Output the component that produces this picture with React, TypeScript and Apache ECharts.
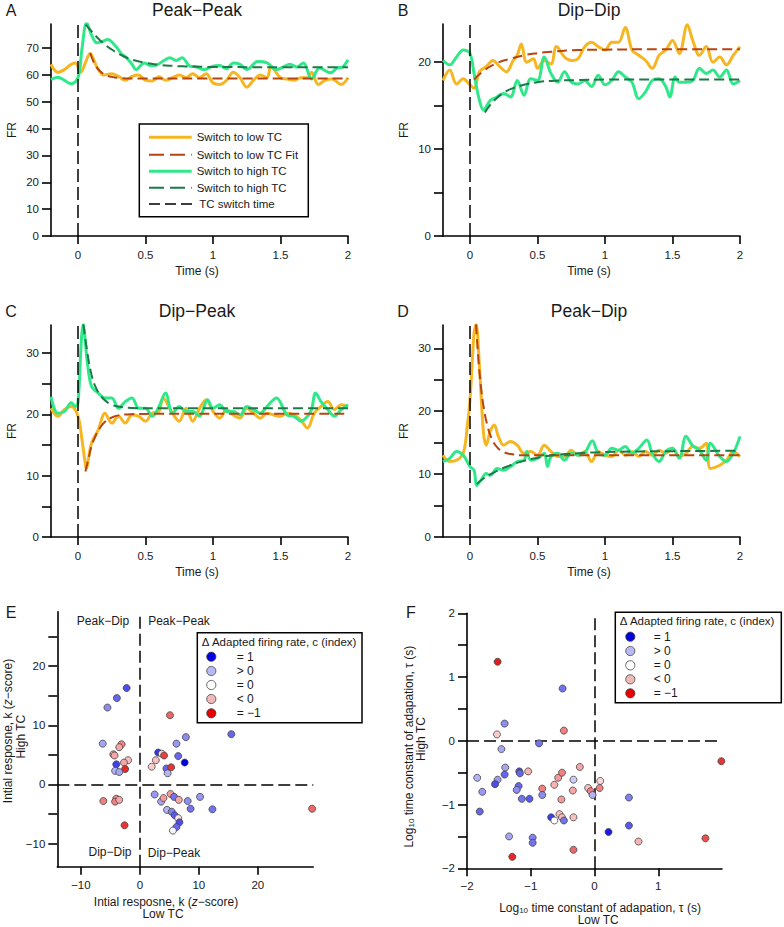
import React, { useEffect, useRef } from 'react';
import * as echarts from 'echarts';

// ---------- DATA ----------
const timeTicks = [0, 0.5, 1, 1.5, 2];

// Panel A: Peak-Peak
const aLow = [[-0.2,64],[-0.15,61],[-0.1,62],[-0.05,64],[-0.02,64.5],[0.02,61],[0.05,64],[0.09,68],[0.14,63],[0.19,60],[0.25,60.5],[0.3,59.5],[0.35,58],[0.4,59.5],[0.45,60],[0.5,58],[0.55,57.8],[0.6,59.3],[0.65,58],[0.7,59],[0.75,60],[0.8,59],[0.85,60.5],[0.9,59],[0.95,60.5],[1.0,57],[1.05,56.5],[1.1,58],[1.15,61],[1.2,59],[1.25,55.5],[1.3,58],[1.35,60],[1.4,59],[1.43,63],[1.5,59],[1.55,58.5],[1.6,58],[1.65,59],[1.7,59],[1.73,61],[1.78,56.5],[1.83,58],[1.88,58.5],[1.95,56.5],[2.0,59]];
const aLowFit = [[0.09,68.2],[0.11,65.5],[0.13,63.5],[0.16,61.6],[0.2,60.1],[0.25,59.3],[0.3,58.9],[0.4,58.7],[1,58.7],[2,58.7]];
const aHigh = [[-0.2,58.3],[-0.15,59.2],[-0.1,58],[-0.05,56.7],[0,59],[0.03,70],[0.064,79.5],[0.1,75],[0.14,72],[0.18,72.5],[0.22,73.2],[0.28,70.7],[0.32,68],[0.36,66.4],[0.4,64],[0.43,62],[0.49,64.5],[0.54,63.5],[0.59,63.9],[0.64,65.5],[0.68,66.4],[0.73,65.4],[0.77,66.4],[0.83,63.3],[0.88,63],[0.93,62],[1.0,63.3],[1.05,63.5],[1.1,62.3],[1.15,64.5],[1.2,64],[1.25,62],[1.33,65],[1.4,64.5],[1.47,62],[1.52,63],[1.57,64],[1.62,63],[1.67,64.5],[1.73,58.5],[1.79,62.6],[1.87,60.8],[1.92,62.6],[1.96,63],[2.0,65.7]];
const aHighFit = [[0.057,78.8],[0.1,76.3],[0.15,73.6],[0.2,71.3],[0.25,69.5],[0.3,67.9],[0.35,66.7],[0.4,65.7],[0.5,64.5],[0.6,63.8],[0.7,63.4],[0.8,63.2],[1.0,63.0],[1.5,62.9],[2,62.9]];

// Panel B: Dip-Dip
const bLow = [[-0.2,17.9],[-0.15,19.1],[-0.1,17.5],[-0.05,18.1],[0.0,17.4],[0.03,17],[0.07,18.9],[0.12,19.5],[0.17,20.2],[0.22,19.5],[0.27,18.9],[0.32,20.2],[0.35,20.8],[0.38,22.1],[0.42,20],[0.47,20.4],[0.5,19.3],[0.55,20.2],[0.6,19.8],[0.64,21.8],[0.7,20.6],[0.75,20.2],[0.8,20.4],[0.85,21.8],[0.9,22.3],[0.95,21.8],[1.0,21.4],[1.05,22.3],[1.1,22.3],[1.15,24],[1.2,21.4],[1.25,20.8],[1.3,20.2],[1.35,19.3],[1.4,20.8],[1.45,21.4],[1.5,22.5],[1.55,21],[1.61,24.3],[1.65,22.5],[1.7,20.8],[1.75,21.8],[1.8,20],[1.85,20.6],[1.9,19.7],[1.95,20.8],[2.0,21.8]];
const bLowFit = [[0.03,18],[0.1,19.0],[0.2,19.9],[0.3,20.4],[0.4,20.8],[0.5,21.05],[0.6,21.2],[0.8,21.4],[1,21.45],[1.5,21.5],[2,21.5]];
const bHigh = [[-0.2,20.2],[-0.15,19.7],[-0.1,20.6],[-0.05,21.4],[0.0,21],[0.03,18.7],[0.07,15.6],[0.1,14.5],[0.15,15.6],[0.2,16],[0.25,16.4],[0.3,16],[0.35,17.9],[0.4,16.2],[0.45,18.1],[0.5,17.9],[0.55,20.6],[0.6,18.7],[0.65,17.7],[0.7,18.9],[0.75,17.7],[0.8,17.5],[0.85,17.9],[0.9,17.2],[0.95,18.5],[1.0,17.4],[1.05,17.9],[1.1,18.9],[1.15,18.3],[1.2,17.7],[1.25,15.8],[1.3,16.6],[1.35,17.9],[1.4,18.1],[1.45,17.2],[1.48,16],[1.52,18.3],[1.55,17.7],[1.6,17.7],[1.65,17.9],[1.7,19.3],[1.75,18.7],[1.8,19.1],[1.85,18.3],[1.9,19.1],[1.95,17.5],[2.0,17.9]];
const bHighFit = [[0.11,14.2],[0.15,15.1],[0.2,15.9],[0.25,16.5],[0.3,16.9],[0.4,17.4],[0.5,17.7],[0.6,17.85],[0.8,17.95],[1,18],[2,18]];

// Panel C: Dip-Peak
const cLow = [[-0.2,21],[-0.15,19.7],[-0.1,20.8],[-0.05,21.3],[0.0,19.7],[0.03,15.8],[0.05,12.6],[0.06,11.2],[0.1,15.3],[0.15,17.5],[0.2,20.2],[0.25,18.6],[0.3,19.7],[0.35,18.6],[0.4,19.9],[0.45,19.7],[0.5,18.9],[0.55,20.2],[0.6,20.5],[0.63,22.7],[0.7,20.2],[0.75,18.9],[0.8,21],[0.85,18.9],[0.9,21],[0.95,22.4],[1.0,20.5],[1.05,19.4],[1.1,20.8],[1.15,19.9],[1.2,19.4],[1.25,21],[1.3,20.2],[1.35,19.4],[1.4,20.2],[1.45,19.9],[1.5,19.7],[1.55,20.2],[1.6,19.9],[1.65,19.1],[1.7,17.8],[1.75,20.2],[1.8,21.3],[1.85,22.1],[1.9,20.8],[1.95,21.6],[2.0,21.3]];
const cLowFit = [[0.055,10.7],[0.08,13],[0.1,14.8],[0.13,16.5],[0.16,17.7],[0.2,18.8],[0.25,19.5],[0.3,19.85],[0.4,20.05],[0.6,20.1],[2,20.1]];
const cHigh = [[-0.2,22.9],[-0.15,20.2],[-0.1,20.5],[-0.05,21.9],[-0.02,21.3],[0.0,21.9],[0.025,32.2],[0.037,34.7],[0.07,28.4],[0.1,24.6],[0.15,23.5],[0.2,22.7],[0.25,22.7],[0.3,21],[0.35,22.1],[0.4,22.7],[0.45,21],[0.5,21],[0.55,19.7],[0.6,21.3],[0.648,23.5],[0.7,20.2],[0.75,21.3],[0.8,20.5],[0.85,20.5],[0.9,19.7],[0.96,22.4],[1.0,21],[1.05,21.6],[1.1,20.5],[1.15,20.5],[1.2,19.9],[1.25,21.3],[1.3,20.8],[1.35,20.2],[1.4,21.3],[1.47,22.7],[1.55,19.9],[1.6,19.7],[1.65,18.9],[1.7,19.7],[1.73,20.8],[1.76,23.5],[1.8,22.1],[1.85,20.8],[1.9,19.7],[1.95,20.8],[2.0,21.6]];
const cHighFit = [[0.04,34.7],[0.07,30],[0.1,26.5],[0.13,24.5],[0.17,23],[0.2,22.3],[0.25,21.6],[0.3,21.3],[0.4,21.05],[0.6,21],[2,21]];

// Panel D: Peak-Dip
const dLow = [[-0.2,13],[-0.15,12],[-0.1,12.2],[-0.05,13.3],[-0.02,17.6],[0.0,21.8],[0.03,32.4],[0.045,33.8],[0.07,27.1],[0.1,16.5],[0.12,14.6],[0.15,16.8],[0.18,17.8],[0.21,16],[0.25,14.6],[0.3,15.2],[0.35,14.6],[0.4,13.3],[0.45,13.6],[0.5,13],[0.55,14.6],[0.6,13.6],[0.65,12.8],[0.7,12.8],[0.75,13.8],[0.8,13],[0.85,13.6],[0.9,12],[0.95,13.6],[1.0,13],[1.05,12.8],[1.1,13.8],[1.15,13],[1.2,13.6],[1.25,12.8],[1.3,13.6],[1.35,13],[1.4,13.8],[1.45,13.3],[1.5,14.1],[1.55,12.8],[1.6,13.3],[1.65,14.4],[1.7,14.1],[1.75,14.9],[1.78,10.9],[1.85,11.4],[1.9,12.2],[1.95,13.6],[2.0,12.8]];
const dLowFit = [[0.045,33.8],[0.06,28.9],[0.08,24.1],[0.1,20.8],[0.13,17.6],[0.16,15.7],[0.2,14.3],[0.25,13.5],[0.3,13.2],[0.4,13.0],[2,13.0]];
const dHigh = [[-0.2,12],[-0.15,12.5],[-0.1,13.6],[-0.05,13],[0.0,11.2],[0.03,10.6],[0.05,8.2],[0.08,9],[0.12,10.1],[0.15,9.8],[0.2,10.9],[0.25,10.6],[0.3,11.2],[0.35,12],[0.4,12.2],[0.42,13.6],[0.45,12.2],[0.5,12.5],[0.55,13.3],[0.574,11.2],[0.6,12.8],[0.65,13.3],[0.7,12.2],[0.75,13.3],[0.8,13],[0.85,13.4],[0.906,15.3],[0.95,13.3],[1.0,13],[1.05,14.1],[1.1,13.8],[1.15,14.4],[1.2,13.3],[1.25,14.1],[1.31,15.4],[1.35,13.3],[1.4,12],[1.45,13.6],[1.5,14.1],[1.55,12.5],[1.6,16],[1.65,14.5],[1.7,13.8],[1.75,12.2],[1.78,14.9],[1.85,12.8],[1.9,12],[1.95,13.3],[2.0,16]];
const dHighFit = [[0.05,8.4],[0.1,9.3],[0.2,10.5],[0.3,11.4],[0.4,12.1],[0.5,12.6],[0.6,12.95],[0.8,13.3],[1,13.5],[1.5,13.65],[2,13.7]];

// Panel E: initial response k (low TC, high TC, delta c)
const ePoints = [[-2.25,16.3,0.7],[-3.9,14.6,0.6],[-5.5,13,0.45],[-6.3,6.9,0.35],[-3.1,6.8,-0.5],[-3.5,6.3,-0.35],[-4.5,5.1,-0.4],[-4.3,4.9,-0.35],[-2,4.1,-0.25],[-2.7,3.7,-0.35],[-4.0,3.4,0.75],[-2.5,2.6,-0.85],[-4.2,2.3,0.3],[-3.5,2.1,0.35],[-6.2,-2.8,-0.5],[-4.0,-2.4,-0.45],[-4.2,-2.9,-0.5],[-3.5,-2.6,-0.35],[-2.6,-6.9,-0.8],
[5.1,11.7,-0.6],[7.8,8.0,0.45],[15.5,8.5,0.6],[6.2,6.9,0.4],[3.1,5.4,0.8],[3.7,5.2,-0.15],[4.1,4.9,-0.75],[6.5,4.8,0.6],[7.6,3.7,1.0],[2.7,4.1,-0.25],[2.0,3.0,-0.2],[4.5,2.7,0.6],[5.3,2.9,-0.8],[4.7,1.9,0.3],
[2.5,-1.7,0.4],[3.6,-2.9,0.35],[4.0,-2.3,-0.4],[5.2,-1.6,-0.4],[5.8,-2.1,0.55],[6.6,-2.6,-0.35],[8.1,-2.8,0.45],[10.2,-2.1,0.4],[8.6,-4.1,0.55],[12.3,-4.2,0.55],[29.2,-4.1,-0.6],[4.6,-4.3,0.3],[5.4,-4.6,0.5],[5.9,-5.2,0.65],[6.5,-5.7,-0.1],[6.7,-6.4,0.7],[6.2,-7.2,0.6],[5.6,-7.8,0.05]];

// Panel F: log10 tau (low TC, high TC, delta c)
const fPoints = [[-1.52,1.24,-0.9],[-0.5,0.82,0.55],[-1.41,0.27,0.45],[-1.53,0.1,-0.2],[-0.48,0.16,-0.5],[-0.87,-0.04,0.55],[-1.46,-0.13,0.35],[-1.84,-0.58,0.3],[-1.4,-0.42,0.35],[-1.41,-0.53,0.6],[-1.52,-0.61,0.4],[-1.56,-0.68,0.7],[-1.76,-0.8,0.4],[-1.8,-1.11,0.6],[-1.18,-0.48,0.7],[-1.17,-0.51,0.6],[-1.19,-0.71,0.6],[-1.22,-0.77,0.45],[-1.14,-0.91,0.55],[-1.02,-0.91,0.65],[-1.04,-0.48,-0.3],[-0.82,-0.75,-0.5],[-0.82,-0.85,0.45],[-0.63,-0.69,-0.3],[-0.57,-0.58,-0.4],[-0.51,-0.5,-0.5],[-0.33,-0.61,0.2],[-0.23,-0.41,-0.35],[-0.34,-0.78,-0.35],[-0.52,-0.92,-0.4],[-1.34,-1.5,0.35],[-0.97,-1.52,0.5],[-0.97,-1.6,0.55],[-1.29,-1.82,-0.85],[-0.68,-1.2,0.75],[-0.63,-1.25,0.0],[-0.55,-1.15,-0.25],[-0.51,-1.2,-0.25],[-0.48,-1.25,0.55],[-0.33,-1.2,-0.25],[-0.33,-1.71,-0.6],[-0.1,-0.74,-0.25],[-0.06,-0.79,-0.5],[-0.03,-0.85,0.3],[0.09,-0.63,-0.15],[0.08,-0.74,-0.5],[0.54,-0.89,0.5],[0.22,-1.43,0.9],[0.54,-1.33,0.65],[0.69,-1.58,-0.3],[1.99,-0.32,-0.8],[1.74,-1.53,-0.7]];

const lineLegendLabels = ['Switch to low TC', 'Switch to low TC Fit', 'Switch to high TC', 'Switch to high TC', 'TC switch time'];
const cLegendLabels = ['= 1', '> 0', '= 0', '< 0', '= \u22121'];
const cLegendColors = ['#0000e0', '#b8b8f2', '#ffffff', '#f2b8b8', '#e60000'];
const quadrantLabels = ['Peak\u2212Dip', 'Peak\u2212Peak', 'Dip\u2212Dip', 'Dip\u2212Peak'];

// ---------- STYLE ----------
const FONT = "'Liberation Sans', Arial, Helvetica, sans-serif";
const ORANGE = '#f6b622';
const ORANGE_FIT = '#b8440f';
const GREEN = '#2ee88a';
const GREEN_FIT = '#1d7a48';
const TXT = '#1a1a1a';
const AXW = 1.6;

const fmt = (v: number) => String(v).replace('-', '\u2212');

const panels = [
  { title: 'Peak\u2212Peak', letter: 'A', grid: { left: 51, top: 24, width: 297, height: 212 }, ymax: 79, yTicks: [0,10,20,30,40,50,60,70], yLabels: [0,10,20,30,40,50,60,70], low: aLow, lowFit: aLowFit, high: aHigh, highFit: aHighFit },
  { title: 'Dip\u2212Dip', letter: 'B', grid: { left: 443, top: 24, width: 297, height: 212 }, ymax: 24.4, yTicks: [0,5,10,15,20], yLabels: [0,10,20], low: bLow, lowFit: bLowFit, high: bHigh, highFit: bHighFit },
  { title: 'Dip\u2212Peak', letter: 'C', grid: { left: 51, top: 325, width: 297, height: 212 }, ymax: 34.6, yTicks: [0,5,10,15,20,25,30], yLabels: [0,10,20,30], low: cLow, lowFit: cLowFit, high: cHigh, highFit: cHighFit },
  { title: 'Peak\u2212Dip', letter: 'D', grid: { left: 443, top: 325, width: 297, height: 212 }, ymax: 33.7, yTicks: [0,5,10,15,20,25,30], yLabels: [0,10,20,30], low: dLow, lowFit: dLowFit, high: dHigh, highFit: dHighFit },
];

function axisCommon(ticks: number[], labels: number[], len: number, margin: number) {
  return {
    axisLine: { show: true, onZero: false, lineStyle: { color: '#000', width: AXW } },
    axisTick: { show: true, customValues: ticks, length: len, lineStyle: { color: '#000', width: AXW } },
    axisLabel: { show: true, customValues: labels, margin, fontSize: 11.5, color: TXT, fontFamily: FONT, formatter: fmt },
    splitLine: { show: false },
  };
}

function buildOption() {
  const grids: any[] = [];
  const xAxes: any[] = [];
  const yAxes: any[] = [];
  const series: any[] = [];
  const graphics: any[] = [];

  const txt = (text: string, x: number, y: number, size: number, align = 'center', rotation = 0) => ({
    type: 'text', x, y, rotation, silent: true, z: 50,
    style: { text, fontSize: size, fontFamily: FONT, fill: TXT, align, verticalAlign: 'middle' },
  });

  panels.forEach((p, i) => {
    grids.push({ ...p.grid, containLabel: false });
    xAxes.push({ type: 'value', gridIndex: i, min: -0.2, max: 2, ...axisCommon(timeTicks, timeTicks, 8, 13) });
    yAxes.push({ type: 'value', gridIndex: i, min: 0, max: p.ymax, ...axisCommon(p.yTicks, p.yLabels, 9, 12) });
    const base = { xAxisIndex: i, yAxisIndex: i, symbol: 'none', showSymbol: false, silent: true };
    series.push({ ...base, type: 'line', data: p.low, smooth: 0.35, lineStyle: { color: ORANGE, width: 3 }, z: 2,
      markLine: { silent: true, symbol: ['none', 'none'], label: { show: false }, lineStyle: { color: '#000', type: [13, 5], width: 1.5 }, data: [{ xAxis: 0 }] } });
    series.push({ ...base, type: 'line', data: p.high, smooth: 0.35, lineStyle: { color: GREEN, width: 3 }, z: 3 });
    series.push({ ...base, type: 'line', data: p.lowFit, smooth: 0.5, lineStyle: { color: ORANGE_FIT, width: 2, type: [10, 5] }, z: 4 });
    series.push({ ...base, type: 'line', data: p.highFit, smooth: 0.5, lineStyle: { color: GREEN_FIT, width: 2, type: [10, 5] }, z: 4 });

    const gx = p.grid.left, gy = p.grid.top;
    graphics.push(txt(p.title, gx + 146, gy - 14.5, 17.5));
    graphics.push(txt(p.letter, gx - 40, gy - 14, 16));
    graphics.push(txt('FR', gx - 39, gy + 106, 12, 'center', Math.PI / 2));
    graphics.push(txt('Time (s)', gx + 146, gy + 247, 12));
  });

  // Panel E
  grids.push({ left: 57.3, top: 611.7, width: 256, height: 255, containLabel: false });
  xAxes.push({ type: 'value', gridIndex: 4, min: -14, max: 29.4, ...axisCommon([-10, 0, 10, 20], [-10, 0, 10, 20], 8, 12) });
  yAxes.push({ type: 'value', gridIndex: 4, min: -13.9, max: 29.2, ...axisCommon([-10, -5, 0, 5, 10, 15, 20, 25], [-10, 0, 10, 20], 9, 12) });
  // Panel F
  grids.push({ left: 467, top: 613.3, width: 255, height: 255, containLabel: false });
  xAxes.push({ type: 'value', gridIndex: 5, min: -2, max: 2, ...axisCommon([-2, -1, 0, 1], [-2, -1, 0, 1], 8, 12) });
  yAxes.push({ type: 'value', gridIndex: 5, min: -2, max: 2, ...axisCommon([-2, -1.5, -1, -0.5, 0, 0.5, 1, 1.5, 2], [-2, -1, 0, 1, 2], 9, 12) });

  const quadLine = { silent: true, symbol: ['none', 'none'], label: { show: false }, lineStyle: { color: '#000', type: [12, 5], width: 1.5 }, data: [{ xAxis: 0 }, { yAxis: 0 }] };
  const scatterE = series.length;
  series.push({ type: 'scatter', xAxisIndex: 4, yAxisIndex: 4, data: ePoints, symbolSize: 7, silent: true, z: 5,
    itemStyle: { borderColor: '#444', borderWidth: 0.8, opacity: 1 }, markLine: quadLine });
  const scatterF = series.length;
  series.push({ type: 'scatter', xAxisIndex: 5, yAxisIndex: 5, data: fPoints, symbolSize: 7, silent: true, z: 5,
    itemStyle: { borderColor: '#444', borderWidth: 0.8, opacity: 1 }, markLine: quadLine });

  // Legend A
  const lgX = 139.3, lgY = 124;
  graphics.push({ type: 'rect', shape: { x: lgX, y: lgY, width: 169, height: 92.7 }, style: { fill: '#fff', stroke: '#000', lineWidth: 1.5 }, z: 40 });
  const lgStyles = [
    { stroke: ORANGE, lineWidth: 3 },
    { stroke: ORANGE_FIT, lineWidth: 2, lineDash: [15, 6] },
    { stroke: GREEN, lineWidth: 3 },
    { stroke: GREEN_FIT, lineWidth: 2, lineDash: [15, 6] },
    { stroke: '#000', lineWidth: 1.5, lineDash: [11, 5] },
  ];
  const lgRows = [137.3, 154.7, 171.3, 187.7, 204];
  lineLegendLabels.forEach((lab, k) => {
    graphics.push({ type: 'line', shape: { x1: 149, y1: lgRows[k], x2: k === 4 ? 194 : 191.7, y2: lgRows[k] }, style: lgStyles[k], z: 41 });
    graphics.push(txt(lab, k === 4 ? 199.3 : 196.7, lgRows[k], 11.5, 'left'));
  });

  // Legends E & F
  const cLegend = (bx: number, by: number, bw: number, bh: number, tx: number, ty: number, cx: number, lx: number, rows: number[]) => {
    graphics.push({ type: 'rect', shape: { x: bx, y: by, width: bw, height: bh }, style: { fill: '#fff', stroke: '#000', lineWidth: 1.5 }, z: 40 });
    graphics.push(txt('\u0394 Adapted firing rate, c (index)', tx, ty, 11.5, 'left'));
    cLegendLabels.forEach((lab, k) => {
      graphics.push({ type: 'circle', shape: { cx, cy: rows[k], r: 4.6 }, style: { fill: cLegendColors[k], stroke: '#444', lineWidth: 0.8 }, z: 41 });
      graphics.push(txt(lab, lx, rows[k], 12, 'left'));
    });
  };
  cLegend(197.3, 632.7, 164.7, 90, 201.7, 641.5, 211.3, 236.7, [656.7, 671, 685, 699, 713.3]);
  cLegend(615.3, 612.3, 166, 90.4, 619.7, 621, 630.3, 653.7, [636.7, 651, 665.3, 679.3, 693.3]);

  // Quadrant labels in E
  graphics.push(txt(quadrantLabels[0], 103, 620.7, 12));
  graphics.push(txt(quadrantLabels[1], 179, 620.7, 12));
  graphics.push(txt(quadrantLabels[2], 110, 852, 12));
  graphics.push(txt(quadrantLabels[3], 174, 853, 12));

  // Letters E, F
  graphics.push(txt('E', 11, 612, 16));
  graphics.push(txt('F', 411, 612, 16));

  // Axis titles E
  const richK = { a: { fontSize: 12, fontFamily: FONT, fill: TXT }, i: { fontSize: 12, fontFamily: FONT, fontStyle: 'italic', fill: TXT } };
  const kText = '{a|Intial resposne, k (}{i|z}{a|\u2212score)}';
  graphics.push({ type: 'text', x: 166, y: 901.7, silent: true, style: { text: kText, rich: richK, align: 'center', verticalAlign: 'middle' } });
  graphics.push(txt('Low TC', 163, 914.3, 12));
  graphics.push({ type: 'text', x: 8, y: 731, rotation: Math.PI / 2, silent: true, style: { text: kText, rich: richK, align: 'center', verticalAlign: 'middle' } });
  graphics.push(txt('High TC', 20.7, 736.7, 12, 'center', Math.PI / 2));

  // Axis titles F
  const richT = { a: { fontSize: 12, fontFamily: FONT, fill: TXT, lineHeight: 14 }, s: { fontSize: 8, fontFamily: FONT, fill: TXT, verticalAlign: 'bottom', lineHeight: 10 } };
  const tText = '{a|Log}{s|10}{a| time constant of adapation, \u03c4 (s)}';
  graphics.push({ type: 'text', x: 600, y: 907.7, silent: true, style: { text: tText, rich: richT, align: 'center', verticalAlign: 'middle' } });
  graphics.push(txt('Low TC', 598.2, 920, 12));
  graphics.push({ type: 'text', x: 408.7, y: 746.7, rotation: Math.PI / 2, silent: true, style: { text: tText, rich: richT, align: 'center', verticalAlign: 'middle' } });
  graphics.push(txt('High TC', 420.7, 739, 12, 'center', Math.PI / 2));

  return {
    animation: false,
    backgroundColor: '#fff',
    textStyle: { fontFamily: FONT },
    grid: grids,
    xAxis: xAxes,
    yAxis: yAxes,
    visualMap: [{ type: 'continuous', show: false, seriesIndex: [scatterE, scatterF], dimension: 2, min: -1, max: 1,
      inRange: { color: ['#e60000', '#ffffff', '#0000e0'] } }],
    series,
    graphic: { elements: graphics },
  };
}

export default function App() {
  const ref = useRef<HTMLDivElement>(null);
  useEffect(() => {
    if (!ref.current) return;
    const chart = echarts.init(ref.current, undefined, { renderer: 'svg' });
    chart.setOption(buildOption() as any);
    return () => chart.dispose();
  }, []);
  return <div ref={ref} style={{ position: 'absolute', left: 0, top: 0, width: 784, height: 927, background: '#fff' }} />;
}
